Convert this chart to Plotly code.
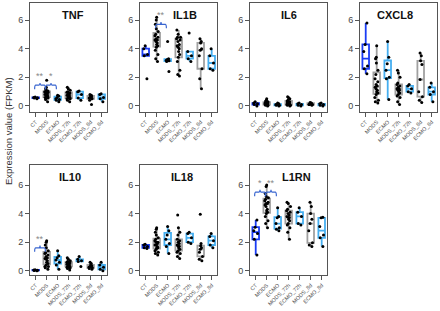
import plotly.graph_objects as go

groups = ["CT", "MODS", "ECMO", "MODS_72h", "ECMO_72h", "MODS_8d", "ECMO_8d"]
group_colors = ["#1a3cf5", "#a0a0a0", "#45aef0", "#a0a0a0", "#45aef0", "#a0a0a0", "#45aef0"]

genes = ["TNF", "IL1B", "IL6", "CXCL8", "IL10", "IL18", "L1RN"]

TNF = [
    [0.5, 0.55, 0.58, 0.6, 0.62],
    [0.3, 0.45, 0.55, 0.6, 0.6, 0.65, 0.7, 0.75, 0.8, 0.8, 0.85, 0.9, 0.95, 1.0, 1.0, 1.05, 1.1, 1.2, 1.3, 1.8],
    [0.3, 0.4, 0.45, 0.5, 0.6, 0.7, 0.75],
    [0.3, 0.4, 0.5, 0.5, 0.55, 0.6, 0.65, 0.7, 0.7, 0.75, 0.8, 0.85, 0.9, 0.95, 1.0, 1.1, 1.2, 1.3],
    [0.4, 0.55, 0.8, 1.0, 1.05],
    [0.1, 0.4, 0.5, 0.55, 0.6, 0.65, 0.7, 0.75, 0.8],
    [0.3, 0.5, 0.6, 0.8, 0.85],
]
IL1B = [
    [1.9, 3.5, 3.6, 4.0, 4.2],
    [3.1, 3.3, 3.6, 3.9, 4.1, 4.2, 4.3, 4.4, 4.5, 4.6, 4.6, 4.7, 4.8, 4.9, 5.0, 5.2, 5.4, 5.7, 6.0, 6.2],
    [2.4, 3.1, 3.15, 3.2, 3.25, 3.3, 4.5],
    [2.1, 2.2, 2.5, 3.1, 3.4, 3.6, 3.8, 4.0, 4.1, 4.2, 4.3, 4.5, 4.6, 4.7, 4.8, 4.8, 5.0, 5.3],
    [3.1, 3.3, 3.5, 3.8, 5.1],
    [1.2, 1.9, 2.6, 3.5, 3.9, 4.0, 4.4, 4.5, 4.7],
    [2.5, 2.6, 3.0, 3.5, 4.0],
]
IL6 = [
    [0.0, 0.1, 0.15, 0.2, 0.3],
    [0.0, 0.05, 0.05, 0.1, 0.1, 0.1, 0.12, 0.15, 0.15, 0.18, 0.2, 0.2, 0.2, 0.22, 0.25, 0.3, 0.3, 0.35, 0.4, 0.5],
    [0.0, 0.05, 0.05, 0.1, 0.1, 0.15, 0.2],
    [0.0, 0.05, 0.05, 0.1, 0.1, 0.1, 0.15, 0.15, 0.2, 0.2, 0.2, 0.25, 0.3, 0.35, 0.4, 0.5, 0.6, 0.65],
    [0.0, 0.05, 0.1, 0.15, 0.2],
    [0.05, 0.1, 0.1, 0.1, 0.15, 0.15, 0.2, 0.2, 0.25],
    [0.0, 0.05, 0.1, 0.15, 0.2],
]
CXCL8 = [
    [2.25, 2.6, 2.8, 3.8, 4.3, 5.8],
    [0.2, 0.3, 0.4, 0.6, 0.8, 0.9, 1.0, 1.1, 1.2, 1.3, 1.4, 1.5, 1.7, 1.9, 2.2, 2.5, 3.0, 3.3, 3.4, 4.2],
    [0.45, 1.9, 2.0, 2.5, 2.95, 3.4, 4.5],
    [0.1, 0.3, 0.6, 0.7, 0.8, 0.9, 1.0, 1.1, 1.1, 1.2, 1.2, 1.3, 1.4, 1.5, 1.6, 2.0, 2.3, 2.5],
    [0.9, 1.0, 1.2, 1.4, 1.5],
    [0.25, 0.4, 0.65, 1.0, 1.85, 2.9, 3.15, 3.5, 3.7],
    [0.3, 0.8, 1.0, 1.3, 1.6],
]
IL10 = [
    [0.0, 0.02, 0.03, 0.05, 0.06],
    [0.1, 0.2, 0.3, 0.3, 0.4, 0.5, 0.6, 0.7, 0.8, 0.85, 0.9, 1.0, 1.1, 1.2, 1.25, 1.4, 1.6, 1.8, 2.0, 2.1],
    [0.1, 0.4, 0.6, 0.75, 0.9, 1.05, 1.4],
    [0.05, 0.15, 0.2, 0.25, 0.3, 0.3, 0.35, 0.4, 0.4, 0.45, 0.5, 0.5, 0.55, 0.6, 0.65, 0.7, 0.8, 0.9],
    [0.3, 0.65, 0.7, 0.8, 1.0],
    [0.1, 0.15, 0.2, 0.25, 0.3, 0.35, 0.4, 0.5, 0.6],
    [0.0, 0.1, 0.25, 0.4, 0.6],
]
IL18 = [
    [1.55, 1.6, 1.7, 1.8, 1.85],
    [1.1, 1.2, 1.3, 1.4, 1.5, 1.6, 1.6, 1.7, 1.8, 1.8, 1.9, 2.0, 2.0, 2.1, 2.2, 2.3, 2.5, 2.7, 2.9, 3.0],
    [1.2, 1.7, 1.9, 2.2, 2.5, 2.8, 3.1],
    [0.85, 1.0, 1.2, 1.3, 1.4, 1.5, 1.6, 1.7, 1.75, 1.8, 1.9, 2.0, 2.1, 2.2, 2.5, 2.7, 3.0, 3.9],
    [1.9, 2.0, 2.3, 2.6, 2.7],
    [0.7, 0.8, 1.0, 1.3, 1.5, 1.6, 1.75, 1.9, 3.95],
    [1.6, 1.8, 2.1, 2.4, 2.6],
]
L1RN = [
    [1.1, 2.2, 2.6, 2.8, 3.05, 3.55],
    [3.0, 3.3, 3.5, 3.8, 4.0, 4.1, 4.2, 4.3, 4.5, 4.6, 4.7, 4.7, 4.8, 4.9, 5.0, 5.1, 5.2, 5.4, 5.9, 6.0],
    [2.8, 2.9, 3.0, 3.3, 3.7, 3.8, 4.4],
    [2.2, 2.7, 3.0, 3.2, 3.3, 3.5, 3.6, 3.7, 3.75, 3.8, 3.9, 4.0, 4.1, 4.2, 4.3, 4.5, 4.7, 4.8],
    [3.2, 3.3, 3.8, 4.1, 4.4],
    [1.7, 1.8, 1.95, 2.8, 3.3, 3.6, 4.0, 4.5, 4.8],
    [1.7, 2.3, 2.5, 3.1, 3.7, 3.75],
]
gene_data = [TNF, IL1B, IL6, CXCL8, IL10, IL18, L1RN]

# significance: (gene index, group a, group b, label, bracket height)
sig_gene = [0, 0, 1, 4, 6, 6]
sig_a = [0, 1, 1, 0, 0, 1]
sig_b = [1, 2, 2, 1, 1, 2]
sig_label = ["**", "*", "**", "**", "*", "**"]
sig_y = [1.45, 1.45, 5.7, 1.6, 5.5, 5.5]

y_ticks = [0, 2, 4, 6]

W, H = 440, 311
# panel frames in pixels (left, right, top, bottom)
frames = [
    (30, 107.3, 3.3, 111.7), (140, 217.3, 3.3, 111.7), (250, 327.3, 3.3, 111.7), (360, 437.3, 3.3, 111.7),
    (30, 107.3, 165, 275), (140, 217.3, 165, 275), (250, 327.3, 165, 275),
]
yranges = [[-0.40, 7.17]] * 4 + [[-0.30, 7.40]] * 3
title_x = [3.36, 3.57, 3.0, 2.66, 3.1, 3.27, 3.75]

fig = go.Figure()
layout = dict(
    width=W, height=H, autosize=False, margin=dict(l=0, r=0, t=0, b=0, autoexpand=False),
    paper_bgcolor="white", plot_bgcolor="white", showlegend=False,
    font=dict(family="Liberation Sans, Arial", color="#333"),
    shapes=[], annotations=[],
)
frame_col = "#555555"
for i, gene in enumerate(genes):
    n = i + 1
    xa, ya = f"x{n}", f"y{n}"
    l, r, t, b = frames[i]
    layout[f"xaxis{n}"] = dict(
        domain=[l / W, r / W], anchor=ya, range=[-0.52, 6.51],
        tickvals=list(range(len(groups))), ticktext=groups, tickangle=-45,
        tickfont=dict(size=5.5, color="#555"), showline=True, mirror=True,
        linecolor=frame_col, linewidth=1, ticks="outside", ticklen=4,
        tickcolor=frame_col, showgrid=False, zeroline=False, fixedrange=True,
        automargin=False,
    )
    layout[f"yaxis{n}"] = dict(
        domain=[1 - b / H, 1 - t / H], anchor=xa, range=yranges[i],
        tickvals=y_ticks, tickfont=dict(size=9, color="#444"),
        showline=True, mirror=True, linecolor=frame_col, linewidth=1,
        ticks="outside", ticklen=4, tickcolor=frame_col,
        showgrid=False, zeroline=False, fixedrange=True, automargin=False,
    )
    for g, vals in enumerate(gene_data[i]):
        fig.add_trace(go.Box(
            y=vals, x=[g] * len(vals), xaxis=xa, yaxis=ya,
            width=0.6, quartilemethod="inclusive",
            line=dict(color=group_colors[g], width=1.8),
            fillcolor="rgba(255,255,255,0)", whiskerwidth=0,
            boxpoints="all", pointpos=0, jitter=0.7,
            marker=dict(color="black", size=3, line=dict(width=0)),
            hoverinfo="skip",
        ))
    layout["annotations"].append(dict(
        x=title_x[i], y=(6.35 if i < 4 else 6.56), xref=xa, yref=ya,
        text=f"<b>{gene}</b>", showarrow=False, font=dict(size=11, color="#111"),
    ))

for k in range(len(sig_gene)):
    n = sig_gene[k] + 1
    x1 = sig_a[k] - 0.1
    x2 = sig_b[k] - 0.12
    y = sig_y[k]
    xm = (x1 + x2) / 2
    d, h, tip = 0.28, 0.1, 0.16
    path = (f"M {x1},{y - d} Q {x1},{y} {x1 + h},{y} L {xm - h},{y} "
            f"Q {xm},{y} {xm},{y + tip} Q {xm},{y} {xm + h},{y} "
            f"L {x2 - h},{y} Q {x2},{y} {x2},{y - d}")
    layout["shapes"].append(dict(
        type="path", path=path, xref=f"x{n}", yref=f"y{n}",
        line=dict(color="#3a66d0", width=1.2),
    ))
    layout["annotations"].append(dict(
        x=xm, y=y + 0.14, xref=f"x{n}", yref=f"y{n}", yanchor="bottom",
        text=sig_label[k], showarrow=False, font=dict(size=9, color="#888"),
    ))

layout["annotations"].append(dict(
    x=8 / W, y=1 - 131 / H, xref="paper", yref="paper",
    xanchor="center", yanchor="middle",
    text="Expression value (FPKM)", textangle=-90, showarrow=False,
    font=dict(size=9.5, color="#333"),
))

fig.update_layout(**layout)
fig.write_html(
    "out.html",
    config={"displayModeBar": False, "staticPlot": True},
    post_script="document.body.style.margin='0';document.body.style.overflow='hidden';",
)
